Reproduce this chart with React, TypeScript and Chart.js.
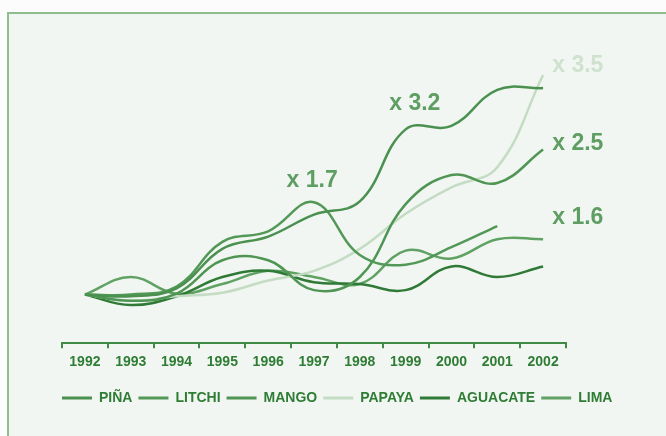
import React, { useEffect, useRef } from "react";
import { Chart, registerables } from "chart.js";

Chart.register(...registerables);

const years = ["1992", "1993", "1994", "1995", "1996", "1997", "1998", "1999", "2000", "2001", "2002"];

const pina = [1, 0.98, 1.07, 1.52, 1.66, 1.91, 2.06, 2.88, 2.92, 3.33, 3.35];
const litchi = [1, 1.0, 1.09, 1.6, 1.72, 2.05, 1.45, 1.34, 1.54, 1.78, null];
const mango = [1, 0.93, 1.01, 1.39, 1.39, 1.05, 1.2, 2.03, 2.36, 2.27, 2.65];
const papaya = [1, 0.93, 0.98, 1.02, 1.16, 1.27, 1.52, 1.92, 2.22, 2.45, 3.5];
const aguacate = [1, 0.88, 0.98, 1.2, 1.27, 1.14, 1.12, 1.05, 1.32, 1.2, 1.32];
const lima = [1, 1.2, 1.01, 1.12, 1.27, 1.2, 1.12, 1.5, 1.41, 1.63, 1.63];

const seriesNames = ["PIÑA", "LITCHI", "MANGO", "PAPAYA", "AGUACATE", "LIMA"];
const seriesData = [pina, litchi, mango, papaya, aguacate, lima];
const seriesColors = ["#4a9150", "#529856", "#4f9554", "#c3dcc3", "#2f7a36", "#5fa263"];

const annotationTexts = ["x 1.7", "x 3.2", "x 3.5", "x 2.5", "x 1.6"];
const annotationIndex = [4.96, 7.2, 10.2, 10.2, 10.2];
const annotationValue = [2.3, 3.17, 3.61, 2.72, 1.87];
const annotationAlign = ["center", "center", "left", "left", "left"];
const annotationColors = ["#5e9e63", "#5e9e63", "#cfe2cf", "#5e9e63", "#5e9e63"];

const axisColor = "#3f8a45";
const textColor = "#2f7d35";
const fontFamily = "'Liberation Sans', Arial, sans-serif";

const annotationPlugin = {
  id: "growthLabels",
  afterDatasetsDraw(chart: any) {
    const { ctx, scales } = chart;
    const xs = scales.x;
    const ys = scales.y;
    ctx.save();
    ctx.font = `bold 23px ${fontFamily}`;
    ctx.textBaseline = "middle";
    annotationTexts.forEach((t, i) => {
      ctx.fillStyle = annotationColors[i];
      ctx.textAlign = annotationAlign[i] as CanvasTextAlign;
      ctx.fillText(t, xs.getPixelForValue(annotationIndex[i]), ys.getPixelForValue(annotationValue[i]));
    });
    ctx.restore();
  },
};

export default function App() {
  const ref = useRef<HTMLCanvasElement | null>(null);

  useEffect(() => {
    if (!ref.current) return;
    const hiddenAxis = (w: number, pos: string) => ({
      display: true,
      position: pos,
      grid: { display: false, drawTicks: false },
      border: { display: false },
      ticks: { display: false },
      afterFit(scale: any) {
        scale.width = w;
      },
    });
    const chart = new Chart(ref.current, {
      type: "line",
      data: {
        labels: years,
        datasets: seriesNames.map((name, i) => ({
          label: name,
          data: seriesData[i],
          borderColor: seriesColors[i],
          backgroundColor: seriesColors[i],
          borderWidth: 2.5,
          pointRadius: 0,
          tension: 0.4,
          fill: false,
          yAxisID: "y",
        })),
      },
      plugins: [annotationPlugin],
      options: {
        animation: false,
        responsive: false,
        layout: { padding: { left: 56, right: 10, top: 60, bottom: 21 } },
        plugins: {
          tooltip: { enabled: false },
          legend: {
            position: "bottom",
            align: "start",
            labels: {
              boxWidth: 30,
              boxHeight: 3,
              padding: 6,
              color: textColor,
              font: { family: fontFamily, size: 14, weight: "bold" },
              generateLabels(chart: any) {
                const items = Chart.defaults.plugins.legend.labels.generateLabels(chart);
                return items.map((it: any) => ({ ...it, lineWidth: 0, fillStyle: it.strokeStyle }));
              },
            },
          },
        },
        scales: {
          x: {
            type: "category",
            offset: true,
            grid: {
              offset: true,
              drawOnChartArea: false,
              drawTicks: true,
              tickLength: 5,
              color: axisColor,
              lineWidth: 2,
            },
            border: { display: true, color: axisColor, width: 2 },
            ticks: {
              color: textColor,
              padding: 6,
              maxRotation: 0,
              autoSkip: false,
              font: { family: fontFamily, size: 14, weight: "bold" },
            },
            afterFit(scale: any) {
              scale.height += 8;
            },
          },
          y: {
            ...hiddenAxis(6, "left"),
            min: 0.446,
            max: 3.67,
          },
          y2: {
            ...hiddenAxis(90, "right"),
            min: 0,
            max: 1,
          },
        },
      },
    } as any);
    return () => chart.destroy();
  }, []);

  return (
    <div
      style={{
        position: "fixed",
        left: 0,
        top: 0,
        width: 666,
        height: 436,
        overflow: "hidden",
        background: "#fbfcfb",
      }}
    >
      <div
        style={{
          position: "absolute",
          left: 7,
          top: 12,
          width: 720,
          height: 500,
          border: "2px solid #8fbd8f",
          background: "#f2f6f2",
        }}
      />
      <canvas
        ref={ref}
        width={666}
        height={436}
        style={{ position: "absolute", left: 0, top: 0, display: "block" }}
      />
    </div>
  );
}
